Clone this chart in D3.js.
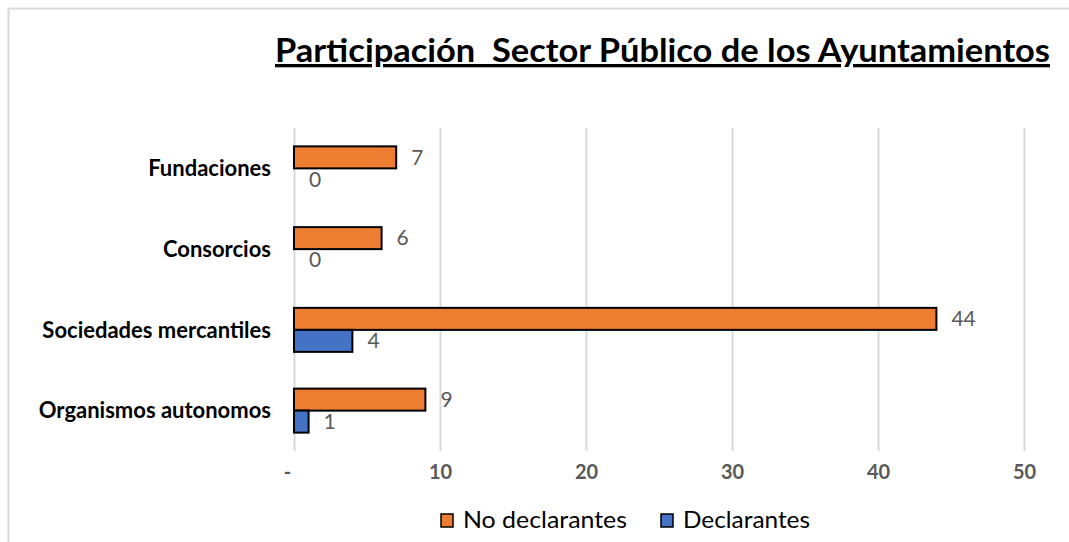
<!DOCTYPE html>
<html>

<head>
    <meta charset="utf-8" />
    <title>Participación Sector Público</title>
    <script src="https://d3js.org/d3.v7.min.js"></script>
    <style>
        body {
            margin: 0;
            background: #fff;
            font-family: Lato, "Open Sans", sans-serif;
        }
    </style>
</head>

<body>
    <div class="chart"></div>

    <script>
        // data
        var categories = ["Fundaciones", "Consorcios", "Sociedades mercantiles", "Organismos autonomos"];
        var seriesNames = ["No declarantes", "Declarantes"];
        var noDeclarantes = [7, 6, 44, 9];
        var declarantes = [0, 0, 4, 1];
        var tickValues = [0, 10, 20, 30, 40, 50];
        var colors = ["#ED7D31", "#4472C4"];

        const w = 1069;
        const h = 542;

        let svg = d3.select('.chart')
            .append('svg')
            .attr('width', w)
            .attr('height', h);

        // outer border of the chart area
        svg.append('rect')
            .attr('x', 8.5).attr('y', 8.5)
            .attr('width', w + 20).attr('height', h + 20)
            .attr('fill', 'none')
            .attr('stroke', '#d9d9d9')
            .attr('stroke-width', 2);

        // title (two spaces kept like the original)
        svg.append('text')
            .attr('x', 275)
            .attr('y', 62)
            .attr('font-size', 33)
            .attr('font-weight', 'bold')
            .attr('text-decoration', 'underline')
            .attr('textLength', 775)
            .attr('lengthAdjust', 'spacingAndGlyphs')
            .style('white-space', 'pre')
            .attr('fill', '#000')
            .text('Participación  Sector Público de los Ayuntamientos');

        // scales
        const x = d3.scaleLinear().domain([0, 50]).range([294, 1024]);
        const y = d3.scaleBand()
            .domain(categories)
            .range([128, 451])
            .paddingInner(0.455)
            .paddingOuter(0.2275);
        const ySub = d3.scaleBand()
            .domain(seriesNames)
            .range([0, y.bandwidth()]);

        // gridlines + tick labels through an axis
        let axis = svg.append('g')
            .attr('transform', 'translate(0,451)')
            .call(d3.axisBottom(x)
                .tickValues(tickValues)
                .tickSize(-323)
                .tickPadding(14)
                .tickFormat(d => d === 0 ? '-' : d));
        axis.select('.domain').remove();
        axis.selectAll('.tick line')
            .attr('stroke', '#d9d9d9')
            .attr('stroke-width', 2);
        axis.selectAll('.tick text')
            .attr('fill', '#595959')
            .attr('font-family', 'Lato, sans-serif')
            .attr('font-weight', 'bold')
            .attr('font-size', 20);
        axis.selectAll('.tick').filter(d => d === 0).select('text')
            .attr('dx', -7);

        // category labels
        svg.selectAll('.cat')
            .data(categories)
            .enter()
            .append('text')
            .attr('class', 'cat')
            .attr('x', 271)
            .attr('y', d => y(d) + y.bandwidth() / 2)
            .attr('dy', '0.35em')
            .attr('text-anchor', 'end')
            .attr('font-size', 22)
            .attr('font-weight', 'bold')
            .attr('fill', '#000')
            .text(d => d);

        // build rows for bars
        let rows = [];
        categories.forEach((c, i) => {
            rows.push({ cat: c, series: seriesNames[0], value: noDeclarantes[i], color: colors[0] });
            rows.push({ cat: c, series: seriesNames[1], value: declarantes[i], color: colors[1] });
        });

        svg.selectAll('.bar')
            .data(rows.filter(d => d.value > 0))
            .enter()
            .append('rect')
            .attr('class', 'bar')
            .attr('x', x(0))
            .attr('y', d => y(d.cat) + ySub(d.series))
            .attr('width', d => x(d.value) - x(0))
            .attr('height', ySub.bandwidth())
            .attr('fill', d => d.color)
            .attr('stroke', '#000')
            .attr('stroke-width', 2);

        // value labels
        svg.selectAll('.val')
            .data(rows)
            .enter()
            .append('text')
            .attr('class', 'val')
            .attr('x', d => x(d.value) + 15)
            .attr('y', d => y(d.cat) + ySub(d.series) + ySub.bandwidth() / 2)
            .attr('dy', '0.35em')
            .attr('font-size', 21)
            .attr('fill', '#595959')
            .text(d => d.value);

        // legend
        let legend = svg.append('g');
        let legendX = [440, 660];
        let legendW = [164, 127];
        seriesNames.forEach((s, i) => {
            legend.append('rect')
                .attr('x', legendX[i] + 1)
                .attr('y', 514)
                .attr('width', 12)
                .attr('height', 13)
                .attr('fill', colors[i])
                .attr('stroke', '#000')
                .attr('stroke-width', 1.5);
            legend.append('text')
                .attr('x', legendX[i] + 23)
                .attr('y', 520)
                .attr('dy', '0.35em')
                .attr('font-size', 23)
                .attr('textLength', legendW[i])
                .attr('lengthAdjust', 'spacingAndGlyphs')
                .attr('fill', '#000')
                .text(s);
        });
    </script>
</body>

</html>
